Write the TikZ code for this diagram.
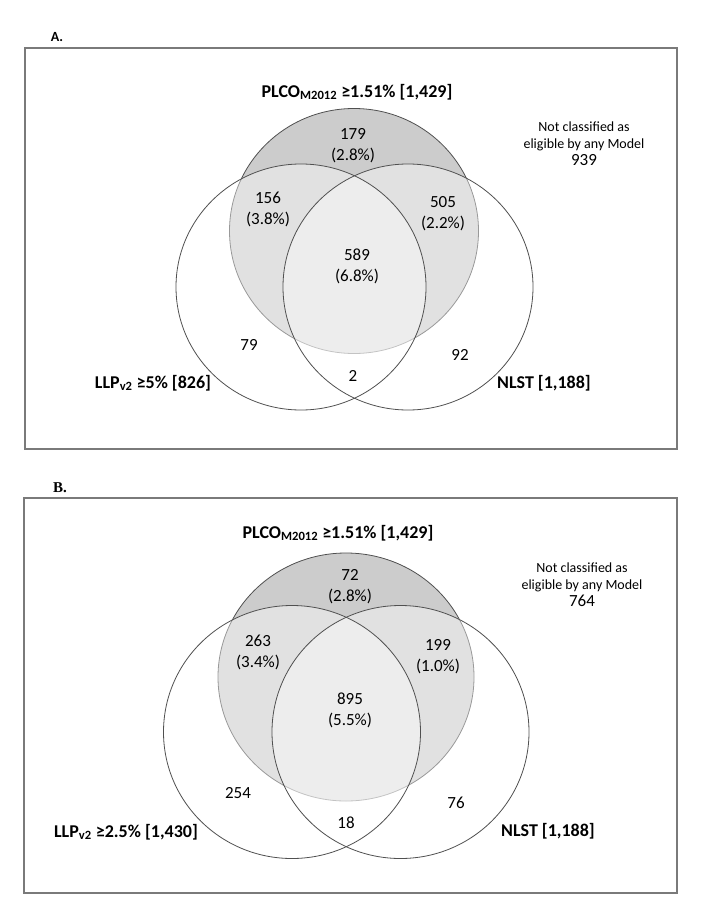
\documentclass[tikz,border=0pt]{standalone}
\usepackage{fontspec}
\setmainfont{Carlito}
\newfontfamily\panelserif{Liberation Serif}
\usepackage{tikz}
\usetikzlibrary{positioning}

\definecolor{plcogray}{HTML}{CCCCCC}
\definecolor{rimgray}{HTML}{505050}
\definecolor{boxgray}{HTML}{7A7A7A}

\begin{document}
\begin{tikzpicture}[
        x=1pt, y=-1pt,
        panel/.style={draw=boxgray, line width=1.4pt},
        plco/.style={fill=plcogray},
        veil/.style={fill=white, opacity=0.42},
        rim/.style={draw=rimgray, line width=0.8pt},
        count/.style={font=\fontsize{17}{21}\selectfont, align=center, inner sep=1pt},
        setname/.style={font=\fontsize{18}{20}\selectfont\bfseries, inner sep=1pt},
        note/.style={font=\fontsize{14}{17}\selectfont, align=center, inner sep=1pt}
    ]
        \useasboundingbox (0,0) rectangle (712,915);

        % Panel A
        \node[font=\fontsize{14}{16}\selectfont\bfseries] (tagA) at (57,37) {A.};
        \draw[panel] (25,48) rectangle (677,449);

        \coordinate (plcoA) at (354,231);
        \coordinate (llpA) at (301,287);
        \coordinate (nlstA) at (408,287);

        \fill[plco] (plcoA) ellipse [x radius=124.5, y radius=122.5];
        \draw[rim] (plcoA) ellipse [x radius=124.5, y radius=122.5];
        \fill[veil] (llpA) ellipse [x radius=125, y radius=123];
        \fill[veil] (nlstA) ellipse [x radius=125, y radius=123];
        \draw[rim] (llpA) ellipse [x radius=125, y radius=123];
        \draw[rim] (nlstA) ellipse [x radius=125, y radius=123];

        \node[setname] (plcoNameA) at (357,92) {PLCO\textsubscript{M2012} ≥1.51\% [1,429]};
        \node[setname] (llpNameA) at (153,383) {LLP\textsubscript{v2} ≥5\% [826]};
        \node[setname] (nlstNameA) at (544,383) {NLST [1,188]};
        \node[note] (noneA) at (584,144) {Not classified as\\eligible by any Model\\{\fontsize{17}{19}\selectfont 939}};

        \node[count] (onlyPlcoA) at (353,146) {179\\(2.8\%)};
        \node[count] (plcoLlpA) at (268,209) {156\\(3.8\%)};
        \node[count] (plcoNlstA) at (443,214) {505\\(2.2\%)};
        \node[count] (allA) at (357,266) {589\\(6.8\%)};
        \node[count] (onlyLlpA) at (249,345) {79};
        \node[count] (onlyNlstA) at (460,355) {92};
        \node[count] (llpNlstA) at (353,376) {2};

        % Panel B
        \node[font=\fontsize{15}{17}\selectfont\panelserif\bfseries] (tagB) at (60,488) {B.};
        \draw[panel] (24,498) rectangle (677,893);

        \coordinate (plcoB) at (346,677);
        \coordinate (llpB) at (292,732);
        \coordinate (nlstB) at (400.5,732);

        \fill[plco] (plcoB) ellipse [x radius=128, y radius=124];
        \draw[rim] (plcoB) ellipse [x radius=128, y radius=124];
        \fill[veil] (llpB) ellipse [x radius=128.5, y radius=126.5];
        \fill[veil] (nlstB) ellipse [x radius=128.5, y radius=126.5];
        \draw[rim] (llpB) ellipse [x radius=128.5, y radius=126.5];
        \draw[rim] (nlstB) ellipse [x radius=128.5, y radius=126.5];

        \node[setname] (plcoNameB) at (338,533) {PLCO\textsubscript{M2012} ≥1.51\% [1,429]};
        \node[setname] (llpNameB) at (126,832) {LLP\textsubscript{v2} ≥2.5\% [1,430]};
        \node[setname] (nlstNameB) at (548,831) {NLST [1,188]};
        \node[note] (noneB) at (582,585) {Not classified as\\eligible by any Model\\{\fontsize{17}{19}\selectfont 764}};

        \node[count] (onlyPlcoB) at (350,587) {72\\(2.8\%)};
        \node[count] (plcoLlpB) at (258,652) {263\\(3.4\%)};
        \node[count] (plcoNlstB) at (438,657) {199\\(1.0\%)};
        \node[count] (allB) at (350,710) {895\\(5.5\%)};
        \node[count] (onlyLlpB) at (238,793) {254};
        \node[count] (onlyNlstB) at (456,803) {76};
        \node[count] (llpNlstB) at (346,823) {18};
    \end{tikzpicture}
\end{document}
